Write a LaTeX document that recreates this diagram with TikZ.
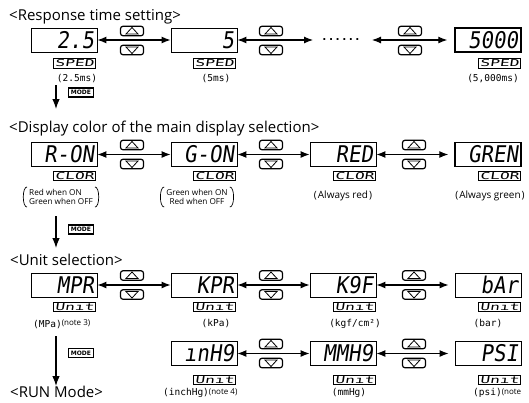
\documentclass[tikz,border=0pt]{standalone}
\usepackage{fontspec}
\setmainfont{Open Sans}
\newfontfamily\segfont{DejaVu Sans Mono}[FakeSlant=0.14,FakeStretch=0.9]
\newfontfamily\lblfont{DejaVu Sans Mono}[FakeSlant=0.15,FakeStretch=1.7]
\newfontfamily\monofnt{DejaVu Sans Mono}
\newfontfamily\modefnt{DejaVu Sans}
\usetikzlibrary{arrows.meta}
\tikzset{
  disp/.style={draw, line width=0.9pt, minimum height=24pt, text width=60pt, inner xsep=3pt, inner ysep=0pt, align=right, font=\segfont\fontsize{23}{23}\selectfont},
  dispd/.style={disp, line width=1.5pt},
  lbl/.style={draw, line width=0.8pt, inner xsep=1.5pt, inner ysep=0.8pt, minimum height=9.5pt, anchor=east, font=\lblfont\fontsize{9.5}{9.5}\selectfont},
  btn/.style={draw, line width=1.2pt, rounded corners=2.5pt, minimum width=23pt, minimum height=9.5pt, inner sep=0pt},
  tri/.style={line width=0.8pt, line join=miter},
  dar/.style={{Latex[length=9pt,width=7pt]}-{Latex[length=9pt,width=7pt]}, line width=1.1pt},
  var/.style={-{Latex[length=10pt,width=7.5pt]}, line width=1.2pt},
  modebox/.style={draw, line width=1.3pt, minimum width=25pt, minimum height=9pt, inner sep=0.5pt, font=\modefnt\bfseries\fontsize{6}{6}\selectfont},
  ttl/.style={anchor=base west, inner sep=0pt, font=\fontsize{15}{17}\selectfont},
  val/.style={inner sep=0pt, font=\monofnt\fontsize{9.5}{10}\selectfont},
  cmt/.style={inner sep=0pt, font=\fontsize{10}{11}\selectfont},
  pbox/.style={inner sep=0pt, font=\fontsize{8.2}{9.4}\selectfont},
  paren/.style={line width=0.7pt},
  dotsnode/.style={inner sep=0pt, font=\monofnt\bfseries\fontsize{11}{11}\selectfont}
}
\newcommand\updown[3]{%
  \node[btn] (#1u) at (#2,#3-9.5) {};
  \node[btn] (#1d) at (#2,#3+9.5) {};
  \draw[tri] ([shift={(-6,3)}]#1u.center) -- ([shift={(6,3)}]#1u.center) -- ([shift={(0,-3.5)}]#1u.center) -- cycle;
  \draw[tri] ([shift={(-6,-3)}]#1d.center) -- ([shift={(6,-3)}]#1d.center) -- ([shift={(0,3.5)}]#1d.center) -- cycle;
}
\newcommand\parens[1]{%
  \draw[paren] ([shift={(-2,-2)}]#1.north west) .. controls ([shift={(-7,-2)}]#1.north west) and ([shift={(-7,2)}]#1.south west) .. ([shift={(-2,2)}]#1.south west);
  \draw[paren] ([shift={(2,-2)}]#1.north east) .. controls ([shift={(7,-2)}]#1.north east) and ([shift={(7,2)}]#1.south east) .. ([shift={(2,2)}]#1.south east);
}
\newcommand\notetxt[1]{\raisebox{1.5pt}{\normalfont\fontsize{8}{8}\selectfont #1}}
\begin{document}
\begin{tikzpicture}[x=1pt,y=-1pt]
\fill[white] (0,0) rectangle (529,402);
\path[use as bounding box] (0,0) rectangle (529,402);

% titles
\node[ttl] (t1) at (9,20) {<Response time setting>};
\node[ttl] (t2) at (9,132) {<Display color of the main display selection>};
\node[ttl] (t3) at (10,265) {<Unit selection>};
\node[ttl] (t4) at (10,397) {<RUN Mode>};

% row 1
\node[disp] (r1a) at (64,40) {2.5};
\node[disp] (r1b) at (204,40) {5};
\node[dispd] (r1c) at (488,40) {5000};
\node[lbl] (r1al) at (96,63.5) {SPED};
\node[lbl] (r1bl) at (236,63.5) {SPED};
\node[lbl] (r1cl) at (521,63.5) {SPED};
\node[val] (r1av) at (77,78.5) {(2.5ms)};
\node[val] (r1bv) at (216,78.5) {(5ms)};
\node[val] (r1cv) at (493,78.5) {(5,000ms)};
\updown{b11}{132}{40.5}
\updown{b12}{271}{40.5}
\updown{b13}{410}{40.5}
\coordinate (d1) at (313,40);
\coordinate (d2) at (372,40);
\node[dotsnode] (dd) at (341,40) {......};
\draw[dar] (r1a) -- (r1b);
\draw[dar] (r1b) -- (d1);
\draw[dar] (d2) -- ([xshift=-7pt]r1c.west);
\coordinate (m1a) at (56,85);
\coordinate (m1b) at (56,109);
\draw[var] (m1a) -- (m1b);
\node[modebox] (m1) at (81,92.5) {MODE};

% row 2
\node[disp] (r2a) at (64,154.5) {R-ON};
\node[disp] (r2b) at (204,154.5) {G-ON};
\node[disp] (r2c) at (343,154.5) {RED};
\node[dispd] (r2d) at (488,154.5) {GREN};
\node[lbl] (r2al) at (96,176) {CLOR};
\node[lbl] (r2bl) at (236,176) {CLOR};
\node[lbl] (r2cl) at (376,176) {CLOR};
\node[lbl] (r2dl) at (521,176) {CLOR};
\node[pbox, align=left] (r2av) at (61,197) {Red when ON\\Green when OFF};
\node[pbox, align=center] (r2bv) at (197,197) {Green when ON\\Red when OFF};
\parens{r2av}
\parens{r2bv}
\node[cmt] (r2cv) at (343,196) {(\kern1pt Always red\kern1pt)};
\node[cmt] (r2dv) at (490,196) {(\kern1pt Always green\kern1pt)};
\updown{b21}{132}{154.5}
\updown{b22}{271}{154.5}
\updown{b23}{414}{154.5}
\draw[dar] (r2a) -- (r2b);
\draw[dar] (r2b) -- (r2c);
\draw[dar] (r2c) -- ([xshift=-6pt]r2d.west);
\coordinate (m2a) at (56,216);
\coordinate (m2b) at (56,248);
\draw[var] (m2a) -- (m2b);
\node[modebox] (m2) at (81,229.5) {MODE};

% row 3
\node[disp] (r3a) at (64,285) {MPR};
\node[disp] (r3b) at (204,285) {KPR};
\node[disp] (r3c) at (343,285) {K9F};
\node[disp] (r3d) at (488,285) {bAr};
\node[lbl] (r3al) at (96,307) {Unıt};
\node[lbl] (r3bl) at (236,307) {Unıt};
\node[lbl] (r3cl) at (376,307) {Unıt};
\node[lbl] (r3dl) at (521,307) {Unıt};
\node[val, anchor=west] (r3av) at (33,324) {(MPa)\notetxt{(note 3)}};
\node[val] (r3bv) at (216,324) {(kPa)};
\node[val] (r3cv) at (355,324) {(kgf/cm²)};
\node[val] (r3dv) at (488,324) {(bar)};
\updown{b31}{132}{285}
\updown{b32}{271}{285}
\updown{b33}{414}{285}
\draw[dar] (r3a) -- (r3b);
\draw[dar] (r3b) -- (r3c);
\draw[dar] (r3c) -- ([xshift=-6pt]r3d.west);
\coordinate (m3a) at (56,336);
\coordinate (m3b) at (56,386);
\draw[var] (m3a) -- (m3b);
\node[modebox] (m3) at (81,353) {MODE};

% row 4
\node[disp] (r4b) at (204,353.5) {ınH9};
\node[disp] (r4c) at (343,353.5) {MMH9};
\node[disp] (r4d) at (488,353.5) {PSI};
\node[lbl] (r4bl) at (236,380) {Unıt};
\node[lbl] (r4cl) at (376,380) {Unıt};
\node[lbl] (r4dl) at (521,380) {Unıt};
\node[val, anchor=west] (r4bv) at (163,393) {(inchHg)\notetxt{(note 4)}};
\node[val] (r4cv) at (349,393) {(mmHg)};
\node[val, anchor=west] (r4dv) at (473,393) {(psi)\notetxt{(note}};
\updown{b42}{271}{353.5}
\updown{b43}{414}{353.5}
\draw[dar] (r4b) -- (r4c);
\draw[dar] (r4c) -- ([xshift=-6pt]r4d.west);
\end{tikzpicture}
\end{document}
